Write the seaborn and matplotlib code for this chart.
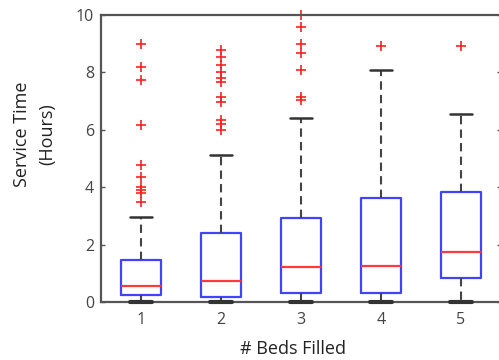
import numpy as np
import matplotlib
matplotlib.use("Agg")
import matplotlib.pyplot as plt
import seaborn as sns

# Data (hours)
categories = ["1", "2", "3", "4", "5"]
medians = [0.56, 0.74, 1.23, 1.26, 1.75]
q1 = [0.25, 0.18, 0.30, 0.30, 0.82]
q3 = [1.46, 2.39, 2.92, 3.61, 3.84]
whisker_low = [0.0, 0.0, 0.0, 0.0, 0.0]
whisker_high = [2.95, 5.11, 6.42, 8.08, 6.55]
outliers_1 = [9.0, 8.2, 7.73, 6.15, 4.77, 4.37, 4.02, 3.9, 3.81, 3.5]
outliers_2 = [8.78, 8.55, 8.26, 8.02, 7.79, 7.68, 7.15, 6.98, 6.34, 6.2, 5.99]
outliers_3 = [10.0, 9.59, 8.98, 8.67, 8.08, 7.15, 7.04]
outliers_4 = [8.93]
outliers_5 = [8.93]
outliers = [outliers_1, outliers_2, outliers_3, outliers_4, outliers_5]
yticks = [0, 2, 4, 6, 8, 10]

sns.set_style("white")
plt.rcParams["font.family"] = ["Open Sans", "DejaVu Sans"]

fig = plt.figure(figsize=(4.99, 3.60), dpi=100)
ax = fig.add_axes([101 / 499, 1 - 302 / 360, 400 / 499, 287 / 360])

stats = []
for i, c in enumerate(categories):
    stats.append(dict(label=c, med=medians[i], q1=q1[i], q3=q3[i],
                      whislo=whisker_low[i], whishi=whisker_high[i],
                      fliers=outliers[i]))

positions = list(range(1, len(categories) + 1))
art = ax.bxp(stats, positions=positions, widths=0.5, capwidths=0.27,
             boxprops=dict(color="#4343ff", linewidth=1.6),
             medianprops=dict(color="#ff3a3a", linewidth=1.6),
             whiskerprops=dict(color="#444444", linewidth=1.5, linestyle=(0, (4, 2.5))),
             capprops=dict(color="#333333", linewidth=1.8),
             flierprops=dict(marker="+", markeredgecolor="#ff2020", markersize=7.5,
                             markeredgewidth=1.2, linestyle="none"))
for f in art["fliers"]:
    f.set_clip_on(False)
for k, c in enumerate(art["caps"]):
    c.set_clip_on(False)
    if k % 2 == 0:  # lower caps sit on the axis line
        c.set_linewidth(3.0)
        c.set_zorder(5)

ax.set_xlim(0.5, 5.5)
ax.set_ylim(0, 10)
ax.set_yticks(yticks)
ax.set_yticklabels([str(t) for t in yticks])
ax.set_xticks(positions)
ax.set_xticklabels(categories)

for s in ax.spines.values():
    s.set_color("#555555")
    s.set_linewidth(1.6)
    s.set_visible(True)

ax.tick_params(axis="y", direction="in", length=3, width=1, color="#555555",
               left=True, right=True, labelsize=11.5, labelcolor="#444444", pad=5)
ax.tick_params(axis="x", length=0, labelsize=11.5, labelcolor="#444444", pad=7)

fig.text(293 / 499, 1 - 349 / 360, "# Beds Filled", ha="center", va="center",
         fontsize=13, color="#222222")
fig.text(22 / 499, 1 - 134 / 360, "Service Time", ha="center", va="center",
         rotation=90, fontsize=13, color="#222222")
fig.text(47 / 499, 1 - 134 / 360, "(Hours)", ha="center", va="center",
         rotation=90, fontsize=13, color="#222222")

fig.savefig("out.png", dpi=100)
